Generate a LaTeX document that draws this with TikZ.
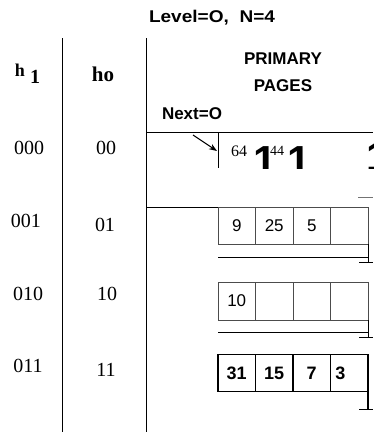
\documentclass[tikz,border=0pt]{standalone}
\usepackage{fontspec}
\setmainfont{Liberation Serif}
\setsansfont{Liberation Sans}
\usetikzlibrary{arrows.meta}
\newcommand{\px}[1]{\fontsize{#1}{#1}\selectfont}

\begin{document}
\begin{tikzpicture}[x=1pt,y=-1pt]
    \tikzset{every node/.style={inner sep=0pt, outer sep=0pt}}
    \tikzset{hdr/.style={font=\sffamily\bfseries\px{17}}}
    \tikzset{bits/.style={font=\px{20}}}
    \tikzset{cell/.style={draw=black!70, line width=0.6pt, minimum width=37.5pt, minimum height=37pt, font=\sffamily\px{17}}}
    \tikzset{fullcell/.style={cell, draw=black, line width=1.1pt, font=\sffamily\bfseries\px{18}}}
    \tikzset{big/.style={font=\sffamily\bfseries\px{42}}}
    \tikzset{rule/.style={line width=0.8pt}}

    \useasboundingbox (0,0) rectangle (373,432);

    % headings
    \node[hdr] (lvl) at (212,18) {\scalebox{1.12}[1]{Level=O,\ \ N=4}};
    \node[font=\bfseries\px{18}, anchor=base west] (h1) at (15,76) {h\hspace{5pt}\raisebox{-7pt}{\px{20}1}};
    \node[font=\bfseries\px{21}] (h0) at (103,74) {ho};
    \node[hdr] (prim) at (283,59) {PRIMARY};
    \node[hdr] (pag) at (283,86) {PAGES};
    \node[hdr, anchor=west] (nxt) at (162,114) {Next=O};

    % hash values
    \node[bits] (b0) at (29,148) {000};
    \node[bits] (c0) at (106,148) {00};
    \node[bits] (b1) at (26,221) {001};
    \node[bits] (c1) at (105,225) {01};
    \node[bits] (b2) at (28,294) {010};
    \node[bits] (c2) at (107,294) {10};
    \node[bits] (b3) at (28,366) {011};
    \node[bits] (c3) at (106,370) {11};

    % column rules
    \draw[rule] (62,38) -- (62,432);
    \draw[rule] (146,38) -- (146,432);

    % page 0
    \coordinate (p0) at (218,132);
    \draw[rule] (146,132) -- (373,132);
    \draw[line width=0.6pt] (p0) -- (218,168);
    \coordinate (nx) at (193,135);
    \coordinate (pg) at (217,151);
    \draw[-{Stealth[length=8pt,width=6pt]}, line width=1.1pt] (nx) -- (pg);
    \node[font=\px{16}] (s64) at (239,151) {64};
    \node[font=\px{14}] (s44) at (277,151) {44};
    \begin{scope}
        \clip (219,133) rectangle (373,168);
        \node[big] (o1) at (265,161) {1};
        \node[big] (o2) at (299,161) {1};
        \node[big] (o3) at (378,157) {1};
    \end{scope}
    \draw[black!55, line width=1pt] (358,197) -- (373,197);

    % page 1
    \node[cell] (r1a) at (236.75,225.5) {9};
    \node[cell] (r1b) at (274.25,225.5) {25};
    \node[cell] (r1c) at (311.75,225.5) {5};
    \node[cell] (r1d) at (349.25,225.5) {};
    \draw[rule] (146,207) -- (r1a.north west);
    \draw[line width=0.8pt] (r1a.south west) ++(0,13) -- ++(150,0);
    \draw[line width=0.6pt] (r1d.south east) -- ++(0,18) coordinate (t1);
    \draw[line width=0.6pt] ([xshift=-9pt]t1) -- ([xshift=5pt]t1);

    % page 2
    \node[cell, minimum height=38pt] (r2a) at (236.75,301) {10};
    \node[cell, minimum height=38pt] (r2b) at (274.25,301) {};
    \node[cell, minimum height=38pt] (r2c) at (311.75,301) {};
    \node[cell, minimum height=38pt] (r2d) at (349.25,301) {};
    \draw[line width=0.8pt] (r2a.south west) ++(0,12) -- ++(150,0);
    \draw[line width=0.6pt] (r2d.south east) -- ++(0,17) coordinate (t2);
    \draw[line width=0.6pt] ([xshift=-9pt]t2) -- ([xshift=5pt]t2);

    % page 3
    \node[fullcell] (r3a) at (236.75,373) {31};
    \node[fullcell] (r3b) at (274.25,373) {15};
    \node[fullcell] (r3c) at (311.75,373) {7};
    \node[fullcell, text width=28pt] (r3d) at (349.25,373) {3};
    \draw[line width=1.1pt] (r3d.south east) -- ++(0,18) coordinate (t3);
    \draw[line width=1.1pt] ([xshift=-9pt]t3) -- ([xshift=5pt]t3);
\end{tikzpicture}
\end{document}
